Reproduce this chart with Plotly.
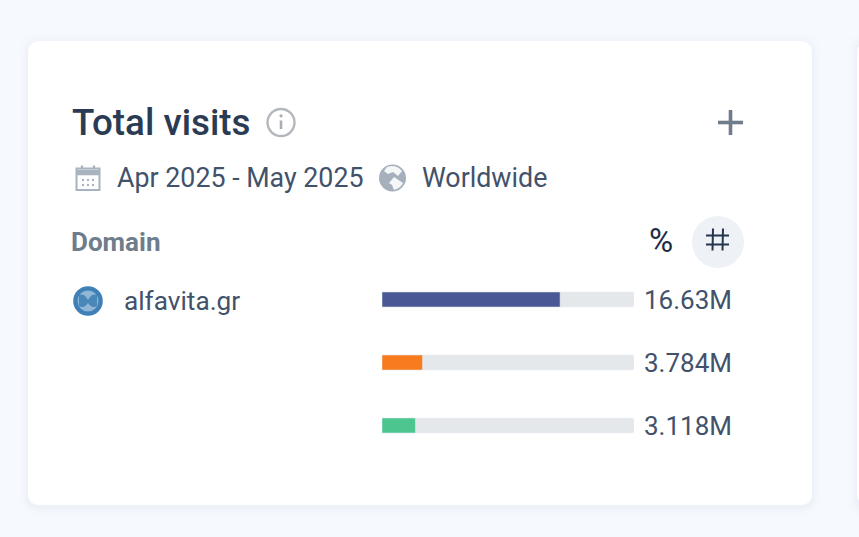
import plotly.graph_objects as go

# Visits per traffic row, in millions
rows = ["a", "b", "c"]
visits = [16.63, 3.784, 3.118]
visit_labels = ["16.63M", "3.784M", "3.118M"]
bar_colors = ["#4a5996", "#f87b1e", "#4cc58f"]
total = sum(visits)

W, H = 859, 537
FONT = "Roboto"
INK = "#2b3b53"
BODY = "#42526a"
MUTED = "#6f7c8b"
ICON = "#a9b3bf"

fig = go.Figure()

# The first subplot spans the page in pixels and carries the card furniture
fig.add_trace(go.Scatter(x=[0], y=[0], mode="markers", marker=dict(opacity=0),
                         hoverinfo="skip", showlegend=False))

# Grey track behind each row, then the coloured share on top
fig.add_trace(go.Bar(y=rows, x=[total] * 3, orientation="h", xaxis="x2", yaxis="y2",
                     marker=dict(color="#e5e8eb", cornerradius=2), hoverinfo="skip", showlegend=False))
fig.add_trace(go.Bar(y=rows, x=visits, orientation="h", xaxis="x2", yaxis="y2",
                     marker=dict(color=bar_colors, cornerradius=2), showlegend=False))


def rect(x0, y0, x1, y1, r, fill):
    return (f"M{x0+r},{y0} L{x1-r},{y0} Q{x1},{y0} {x1},{y0+r} L{x1},{y1-r} Q{x1},{y1} {x1-r},{y1} "
            f"L{x0+r},{y1} Q{x0},{y1} {x0},{y1-r} L{x0},{y0+r} Q{x0},{y0} {x0+r},{y0} Z"), fill


shapes = []


def path(d, fill="rgba(0,0,0,0)", line=None, width=0, layer="below"):
    shapes.append(dict(type="path", path=d, xref="x", yref="y", fillcolor=fill, layer=layer,
                       line=dict(color=line or "rgba(0,0,0,0)", width=width)))


def circle(cx, cy, r, fill="rgba(0,0,0,0)", line=None, width=0, layer="below"):
    shapes.append(dict(type="circle", xref="x", yref="y", x0=cx - r, x1=cx + r, y0=cy - r, y1=cy + r,
                       fillcolor=fill, layer=layer, line=dict(color=line or "rgba(0,0,0,0)", width=width)))


# Soft shadow layers under both cards
for grow, alpha in [(9, 0.006), (7, 0.008), (5, 0.010), (3, 0.012), (1.5, 0.014)]:
    d, f = rect(28 - grow, 41 - grow + 2, 812 + grow, 505 + grow + 2, 12 + grow, f"rgba(70,100,150,{alpha})")
    path(d, f)
    d, f = rect(857 - grow, 41 - grow + 2, 900, 505 + grow + 2, 12, f"rgba(70,100,150,{alpha})")
    path(d, f)

d, f = rect(28, 41, 812, 505, 12, "#ffffff")
path(d, f)
d, f = rect(857, 41, 900, 505, 12, "#ffffff")
path(d, f)

# Info icon
circle(281, 122.5, 13.5, line="#b4b8bd", width=2.4)
path("M281,120.5 L281,129", line="#a8adb3", width=2.6)
circle(281, 115.8, 1.6, fill="#a8adb3")

# Plus button
path("M730.5,110 L730.5,135", line="#6e7c8c", width=3.6)
path("M718,122.5 L743,122.5", line="#6e7c8c", width=3.6)

# Calendar icon
path("M76.5,168.5 L99.5,168.5 L99.5,190 L76.5,190 Z", line=ICON, width=2)
path("M76,172.5 L100,172.5", line=ICON, width=5.5)
path("M82,165.5 L82,169 M94,165.5 L94,169", line=ICON, width=2.4)
for cy in (180, 185):
    for cx in (83, 88, 93):
        circle(cx, cy, 1.2, fill=ICON)

# Globe icon: grey disc with pale land patches
circle(392.5, 178, 13.5, fill="#a5b0bc")
path("M387,167 Q396,164 402,171 L398,176 L393,172 L388,174 L384,171 Z", fill="#f4f6f8")
path("M389,183 L394,177 L403,183 Q401,188 394,190 L392,185 Z", fill="#f4f6f8")

# Favicon: blue rim, paler inner disc and a darker emblem
circle(88, 301, 14.8, fill="#3f80b6")
circle(88, 301, 10.5, fill="#8fb6d6")
path("M79,295 Q84,293 88,300 Q92,293 97,295 L97,306 Q92,309 88,303 Q84,309 79,306 Z", fill="#4a87b9")

# Toggle: highlighted count button with its hash glyph
circle(718, 242, 26, fill="#eef1f5")
path("M713,228.5 L712.5,250.5 M723,228.5 L722.5,250.5 M706,235.5 L729,235.5 M706,244.5 L729,244.5",
     line="#25354e", width=2)

annotations = []


def label(x, y, text, size, color, weight=400, anchor="left"):
    annotations.append(dict(xref="x", yref="y", x=x, y=y, text=text, showarrow=False, xanchor=anchor,
                            yanchor="middle", xshift=-2, font=dict(family=FONT, size=size, color=color, weight=weight)))


label(72, 122, "Total visits", 36.8, INK, 500)
label(117, 178, "Apr 2025 - May 2025", 26.8, BODY)
label(422, 178, "Worldwide", 26.8, BODY)
label(71, 242, "Domain", 26, MUTED, 700)
label(649, 240, "%", 33, "#1d2d45")
label(124, 301, "alfavita.gr", 26.2, BODY)

# Value labels sit just past the end of each track
for row, text in zip(rows, visit_labels):
    annotations.append(dict(xref="x2", yref="y2", x=total, y=row, text=text, showarrow=False, xanchor="left",
                            xshift=8, yshift=-1, font=dict(family=FONT, size=26, color=BODY)))

fig.update_layout(
    width=W, height=H, autosize=False, margin=dict(l=0, r=0, t=0, b=0),
    paper_bgcolor="#f6f9fe", plot_bgcolor="rgba(0,0,0,0)",
    barmode="overlay", bargap=1 - 15 / 63,
    xaxis=dict(domain=[0, 1], range=[0, W], visible=False, fixedrange=True),
    yaxis=dict(domain=[0, 1], range=[H, 0], visible=False, fixedrange=True),
    xaxis2=dict(domain=[382 / W, 634 / W], range=[0, total], visible=False, anchor="y2", fixedrange=True),
    yaxis2=dict(domain=[1 - 457 / H, 1 - 268 / H], range=[2.5, -0.5], type="category",
                categoryorder="array", categoryarray=rows, visible=False, anchor="x2", fixedrange=True),
    shapes=shapes, annotations=annotations,
)
fig.write_html("out.html", config={"displayModeBar": False})
